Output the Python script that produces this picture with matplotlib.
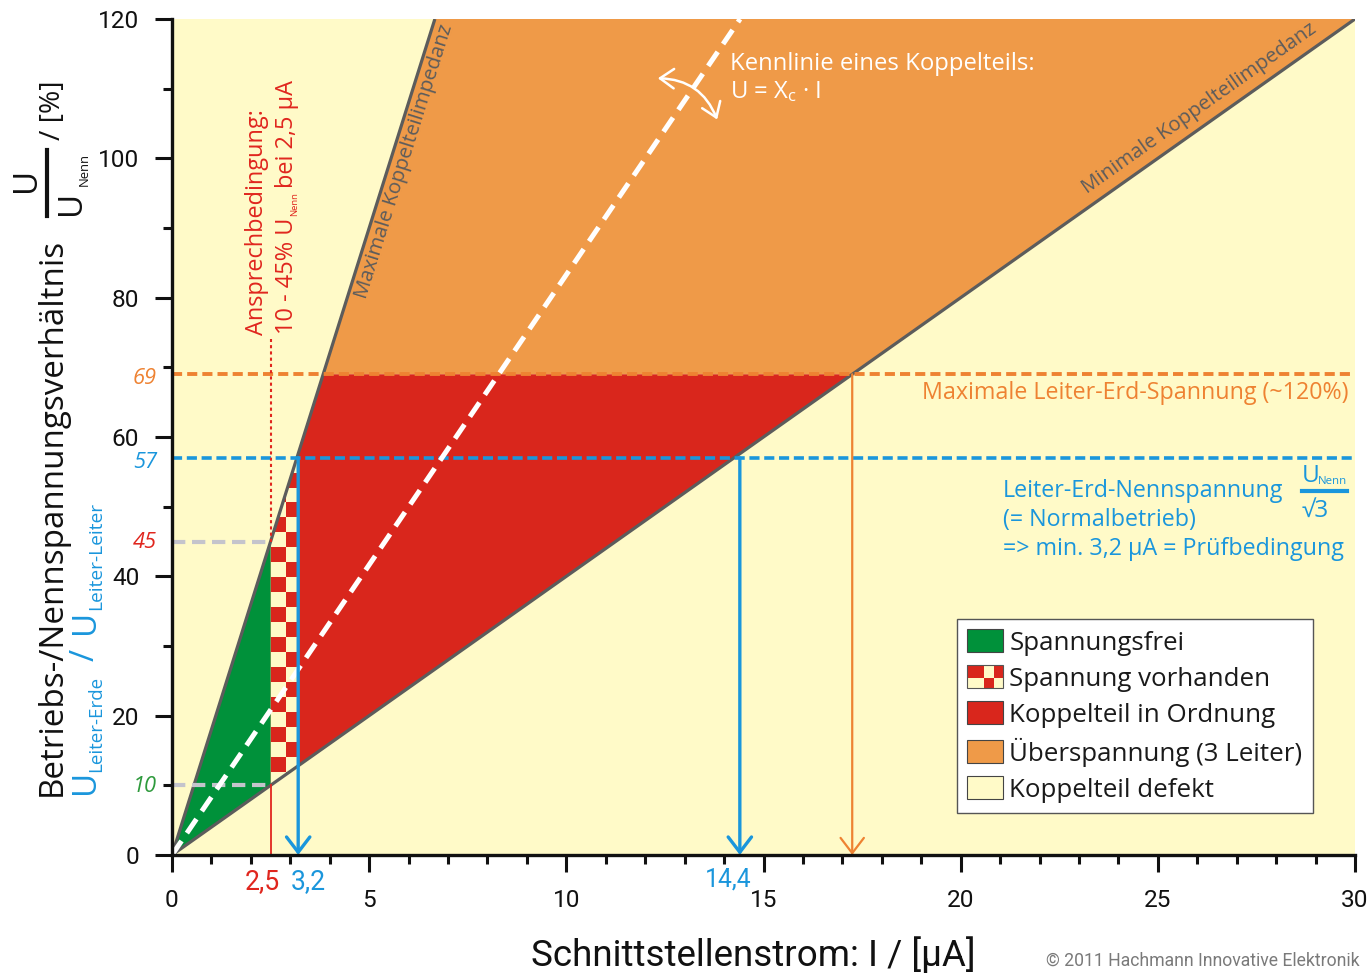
import numpy as np
import matplotlib
matplotlib.use("Agg")
import matplotlib.pyplot as plt
from matplotlib.patches import Polygon, Rectangle, FancyArrowPatch, Patch
from matplotlib.legend_handler import HandlerBase
from matplotlib.colors import ListedColormap
from matplotlib.lines import Line2D
from matplotlib.transforms import offset_copy

# ---------------- data ----------------
max_slope = 18.0          # Maximale Koppelteilimpedanz  (% per µA)
min_slope = 4.0           # Minimale Koppelteilimpedanz  (% per µA)
kennlinie_slope = 8.33    # Kennlinie eines Koppelteils
x_limits = [0, 30]
y_limits = [0, 120]
i_ansprech = 2.5          # µA
i_pruef = 3.2             # µA
i_nenn_min = 14.4         # µA
i_max = 17.25             # µA
u_ansprech_min = 10       # %
u_ansprech_max = 45       # %
u_nenn = 57               # %
u_max = 69                # %
ansprech_text_level = 74  # %
x_major = [0, 5, 10, 15, 20, 25, 30]
x_minor = list(range(0, 31))
y_major = [0, 20, 40, 60, 80, 100, 120]
y_minor = list(range(0, 121, 10))
legend_labels = ["Spannungsfrei", "Spannung vorhanden", "Koppelteil in Ordnung",
                 "Überspannung (3 Leiter)", "Koppelteil defekt"]

# ---------------- style ----------------
YELLOW = "#FFFAC8"
ORANGE = "#EF9A48"
RED = "#D9261C"
GREEN = "#00913A"
GRAY = "#5C5C5C"
BLUE = "#1A96DC"
ORANGE_L = "#EE8232"
LGRAY = "#C4C4CC"
TXTRED = "#E0261E"
SANS = ["Open Sans", "DejaVu Sans"]
NARROW = ["Liberation Sans Narrow", "Roboto", "DejaVu Sans"]

plt.rcParams["mathtext.fontset"] = "custom"
plt.rcParams["mathtext.rm"] = "Open Sans"
plt.rcParams["mathtext.it"] = "Open Sans:italic"
plt.rcParams["mathtext.bf"] = "Open Sans:bold"

W, H = 1367, 973
fig = plt.figure(figsize=(W / 100, H / 100), dpi=100)
renderer = fig.canvas.get_renderer()
ax = fig.add_axes([172 / W, 1 - 855 / H, (1355 - 172) / W, (855 - 19) / H])
ax.set_xlim(*x_limits)
ax.set_ylim(*y_limits)
ax.set_facecolor(YELLOW)


def fit(t, target):
    bb = t.get_window_extent(renderer)
    t.set_fontsize(t.get_fontsize() * target / bb.width)
    return t


def ftext(px, py, s, target=None, size=12, rot=0, **kw):
    t = fig.text(px / W, 1 - py / H, s, fontsize=size, **kw)
    if target:
        fit(t, target)
    if rot:
        t.set_rotation(rot)
        t.set_rotation_mode("anchor")
    return t


def size_for(s, target, family):
    t = fig.text(0, 0, s, fontsize=12, family=family)
    bb = t.get_window_extent(renderer)
    t.remove()
    return 12 * target / bb.width


# ---------------- regions ----------------
ymax = y_limits[1]
orange_poly = [(u_max / max_slope, u_max), (ymax / max_slope, ymax),
               (ymax / min_slope, ymax), (u_max / min_slope, u_max)]
red_poly = [(i_ansprech, u_ansprech_max), (u_max / max_slope, u_max),
            (u_max / min_slope, u_max), (i_ansprech, u_ansprech_min)]
green_poly = [(0, 0), (i_ansprech, u_ansprech_max), (i_ansprech, u_ansprech_min)]
check_poly = [(i_ansprech, u_ansprech_min), (i_ansprech, u_ansprech_max),
              (i_pruef, max_slope * i_pruef), (i_pruef, min_slope * i_pruef)]

ax.add_patch(Polygon(orange_poly, closed=True, facecolor=ORANGE, edgecolor="none", zorder=1))
ax.add_patch(Polygon(red_poly, closed=True, facecolor=RED, edgecolor="none", zorder=1))

# checker pattern
cx = np.array([i_ansprech, 2.88, 3.26])
cy = np.arange(11.9 - 2 * 2.15, 62, 2.15)
C = (np.add.outer(np.arange(len(cy) - 1), np.arange(len(cx) - 1)) % 2)
mesh = ax.pcolormesh(cx, cy, C, cmap=ListedColormap([RED, YELLOW]), zorder=1.5,
                     shading="flat", antialiased=False)
clip = Polygon(check_poly, closed=True, transform=ax.transData, facecolor="none", edgecolor="none")
ax.add_patch(clip)
mesh.set_clip_path(clip)

ax.add_patch(Polygon(green_poly, closed=True, facecolor=GREEN, edgecolor="none", zorder=1.6))

# boundary lines
ax.plot([0, ymax / max_slope], [0, ymax], color=GRAY, lw=2.3, zorder=3, solid_capstyle="butt")
ax.plot([0, ymax / min_slope], [0, ymax], color=GRAY, lw=2.3, zorder=3, solid_capstyle="butt")

# grey dashed helpers
for lvl in (u_ansprech_max, u_ansprech_min):
    ax.plot([0, i_ansprech], [lvl, lvl], color=LGRAY, lw=3, ls=(0, (3.2, 1.6)), zorder=3)

# horizontal dashed levels
ax.plot(x_limits, [u_max, u_max], color=ORANGE_L, lw=2.8, ls=(0, (2.6, 1.3)), zorder=4)
ax.plot(x_limits, [u_nenn, u_nenn], color=BLUE, lw=2.6, ls=(0, (2.8, 1.3)), zorder=4)

# red Ansprech line
ax.plot([i_ansprech, i_ansprech], [0, u_ansprech_min], color=TXTRED, lw=1.3, zorder=4)
ax.plot([i_ansprech, i_ansprech], [u_ansprech_max, ansprech_text_level], color=TXTRED,
        lw=1.5, ls=(0, (1.5, 1.5)), zorder=4)

# white characteristic line
ax.plot([0, ymax / kennlinie_slope], [0, ymax], color="white", lw=3.6,
        ls=(0, (3.4, 1.9)), zorder=5)


# vertical arrows
def varrow(x, y0, color, lw):
    a = FancyArrowPatch((x, y0), (x, 0), arrowstyle="->,head_length=0.55,head_width=0.42",
                        mutation_scale=20, color=color, lw=lw, shrinkA=0, shrinkB=0,
                        zorder=6, clip_on=False)
    ax.add_patch(a)


varrow(i_pruef, u_nenn, BLUE, 2.4)
varrow(i_nenn_min, u_nenn, BLUE, 2.4)
varrow(i_max, u_max, ORANGE_L, 1.6)

# curved double arrow
ca = FancyArrowPatch((12.25, 111.5), (13.85, 105.2), arrowstyle="<->,head_length=0.5,head_width=0.35",
                     connectionstyle="arc3,rad=-0.35", mutation_scale=20, color="white", lw=1.8,
                     zorder=6)
ax.add_patch(ca)

# ---------------- axes styling ----------------
for s in ("top", "right"):
    ax.spines[s].set_visible(False)
for s in ("left", "bottom"):
    ax.spines[s].set_linewidth(2.4)
    ax.spines[s].set_color("#111111")
    ax.spines[s].set_zorder(7)

ax.set_xticks(x_major)
ax.set_xticks(x_minor, minor=True)
ax.set_yticks(y_major)
ax.set_yticks(y_minor, minor=True)
tick_fs = size_for("120", 41, NARROW)
ax.set_xticklabels([str(v) for v in x_major], family=NARROW, fontsize=tick_fs, color="#111111")
ax.set_yticklabels([str(v) for v in y_major], family=NARROW, fontsize=tick_fs, color="#111111")
ax.tick_params(which="major", length=12.5, width=2.2, color="#111111", direction="out")
ax.tick_params(which="minor", length=6.5, width=2.2, color="#111111", direction="out")
ax.tick_params(axis="x", which="major", pad=12)
ax.tick_params(axis="y", which="major", pad=11)

# special tick-level labels
ftext(157, 379, "69", target=24, color=ORANGE_L, style="italic", family=SANS, ha="right", va="center")
ftext(157, 463, "57", target=24, color=BLUE, style="italic", family=SANS, ha="right", va="center")
ftext(157, 543, "45", target=24, color=TXTRED, style="italic", family=SANS, ha="right", va="center")
ftext(157, 786, "10", target=24, color="#2E9A3C", style="italic", family=SANS, ha="right", va="center")
ftext(262, 882, "2,5", target=35, color=TXTRED, family=NARROW, ha="center", va="center")
ftext(308, 882, "3,2", target=35, color=BLUE, family=NARROW, ha="center", va="center")
ftext(728, 880, "14,4", target=46, color=BLUE, family=NARROW, ha="center", va="center")

# x label and copyright
ftext(753, 955, "Schnittstellenstrom: I / [µA]", target=443, color="#111111", family=NARROW,
      ha="center", va="center")
ftext(1360, 961, "© 2011 Hachmann Innovative Elektronik", target=313, color="#7A7A7A",
      family=NARROW, ha="right", va="center")

# ---------------- y label pieces ----------------
main = ftext(61, 517, "Betriebs-/Nennspannungsverhältnis", target=555, color="#111111",
             family=SANS, ha="center", va="baseline", rot=90)
mfs = main.get_fontsize()
# blue part
ftext(94, 794, "U", size=mfs, color=BLUE, family=SANS, ha="left", va="baseline", rot=90)
ftext(101, 772, "Leiter-Erde", target=95, color=BLUE, family=SANS, ha="left", va="baseline", rot=90)
ftext(94, 655, "/", size=mfs, color=BLUE, family=SANS, ha="center", va="baseline", rot=90)
ftext(94, 634, "U", size=mfs, color=BLUE, family=SANS, ha="left", va="baseline", rot=90)
ftext(101, 610, "Leiter-Leiter", target=107, color=BLUE, family=SANS, ha="left", va="baseline", rot=90)
# black fraction
ftext(35, 180, "U", size=mfs, color="#111111", family=SANS, ha="center", va="baseline", rot=90)
fig.add_artist(Line2D([47 / W, 47 / W], [1 - 150 / H, 1 - 216 / H], color="#111111", lw=3.0))
ftext(80, 215, "U", size=mfs, color="#111111", family=SANS, ha="left", va="baseline", rot=90)
ftext(88, 186, "Nenn", target=33, color="#111111", family=SANS, ha="left", va="baseline", rot=90)
ftext(60, 140, "/ [%]", target=60, color="#111111", family=SANS, ha="left", va="baseline", rot=90)

# ---------------- annotations ----------------
k1 = ftext(730, 64, "Kennlinie eines Koppelteils:", target=303, color="white", family=SANS,
           ha="left", va="center")
ftext(730, 92, r"U = X$_{\mathrm{c}}$ · I", size=k1.get_fontsize(), color="white", family=SANS,
      ha="left", va="center")

ml = ftext(1348, 393, "Maximale Leiter-Erd-Spannung (~120%)", target=426, color=ORANGE_L,
           family=SANS, ha="right", va="center")
b1 = ftext(1003, 491, "Leiter-Erd-Nennspannung", target=279, color=BLUE, family=SANS,
           ha="left", va="center")
bfs = b1.get_fontsize()
ftext(1003, 520, "(= Normalbetrieb)", size=bfs, color=BLUE, family=SANS, ha="left", va="center")
ftext(1003, 549, "=> min. 3,2 µA = Prüfbedingung", size=bfs, color=BLUE, family=SANS,
      ha="left", va="center")
ftext(1302, 482, "U", size=bfs * 1.05, color=BLUE, family=SANS, ha="left", va="baseline")
ftext(1318, 484, "Nenn", target=29, color=BLUE, family=SANS, ha="left", va="baseline")
fig.add_artist(Line2D([1302 / W, 1347 / W], [1 - 491 / H, 1 - 491 / H], color=BLUE, lw=3.0))
ftext(1302, 517, "√3", size=bfs * 1.05, color=BLUE, family=SANS, ha="left", va="baseline")

# Ansprechbedingung (rotated)
a1 = ftext(263, 335, "Ansprechbedingung:", target=225, color=TXTRED, family=SANS,
           ha="left", va="baseline", rot=90)
afs = a1.get_fontsize()
p1 = ftext(293, 334, "10 - 45% U", size=afs, color=TXTRED, family=SANS, ha="left", va="baseline", rot=90)
top_u = p1.get_window_extent(renderer).y1  # display coords (from bottom)
p2 = ftext(297, H - top_u - 2, "Nenn", target=24, color=TXTRED, family=SANS, ha="left",
           va="baseline", rot=90)
top_n = p2.get_window_extent(renderer).y1
ftext(293, H - top_n - 4, "bei 2,5 µA", size=afs, color=TXTRED, family=SANS, ha="left",
      va="baseline", rot=90)


# text along the impedance lines
def screen_angle(slope):
    p0 = ax.transData.transform((0, 0))
    p1_ = ax.transData.transform((1, slope))
    return np.degrees(np.arctan2(p1_[1] - p0[1], p1_[0] - p0[0]))


lab_fs = size_for("Maximale Koppelteilimpedanz", 285, SANS)
a_max = np.radians(screen_angle(max_slope))
d = 14
tr_max = offset_copy(ax.transData, fig=fig, x=d * np.sin(a_max), y=-d * np.cos(a_max), units="dots")
yl = 100.2
ax.text(yl / max_slope, yl, "Maximale Koppelteilimpedanz", fontsize=lab_fs, color=GRAY, family=SANS,
        rotation=np.degrees(a_max), rotation_mode="anchor", ha="center", va="center", zorder=4,
        transform=tr_max)
a_min = np.radians(screen_angle(min_slope))
d = 17
tr_min = offset_copy(ax.transData, fig=fig, x=-d * np.sin(a_min), y=d * np.cos(a_min), units="dots")
xm = 26.3
ax.text(xm, xm * min_slope, "Minimale Koppelteilimpedanz", fontsize=lab_fs, color=GRAY, family=SANS,
        rotation=np.degrees(a_min), rotation_mode="anchor", ha="center", va="center", zorder=4,
        transform=tr_min)


# ---------------- legend ----------------
class HandlerChecker(HandlerBase):
    def create_artists(self, legend, orig_handle, xdescent, ydescent, width, height, fontsize, trans):
        arts = [Rectangle((-xdescent, -ydescent), width, height, facecolor=YELLOW,
                          edgecolor="none", transform=trans)]
        cols = [0, 0.45, 0.75, 1.0]
        rows = [0, 0.45, 1.0]
        for i in range(2):
            for j in range(3):
                if (i + j) % 2 == 1:
                    arts.append(Rectangle((-xdescent + cols[j] * width, -ydescent + rows[i] * height),
                                          (cols[j + 1] - cols[j]) * width, (rows[i + 1] - rows[i]) * height,
                                          facecolor=RED, edgecolor="none", transform=trans))
        arts.append(Rectangle((-xdescent, -ydescent), width, height, facecolor="none",
                              edgecolor="#555555", lw=0.8, transform=trans))
        return arts


class CheckerKey:
    pass


leg_fs = size_for("Spannung vorhanden", 260, SANS)
handles = [Patch(facecolor=GREEN, edgecolor="#444444", lw=0.8), CheckerKey(),
           Patch(facecolor=RED, edgecolor="#444444", lw=0.8),
           Patch(facecolor=ORANGE, edgecolor="#444444", lw=0.8),
           Patch(facecolor=YELLOW, edgecolor="#444444", lw=0.8)]
px_fs = leg_fs * 100 / 72
leg = ax.legend(handles, legend_labels, handler_map={CheckerKey: HandlerChecker()},
                loc="upper left", bbox_to_anchor=(957 / W, 1 - 619 / H), bbox_transform=fig.transFigure,
                borderaxespad=0, prop={"family": SANS, "size": leg_fs}, frameon=True, fancybox=False,
                framealpha=1, facecolor="white", edgecolor="#555555",
                handlelength=36 / px_fs, handleheight=25 / px_fs, handletextpad=6 / px_fs,
                borderpad=0.4, labelspacing=0.38)
leg.get_frame().set_linewidth(1.0)
for t in leg.get_texts():
    t.set_color("#1A1A1A")
leg.set_zorder(8)

fig.savefig("out.png", dpi=100, facecolor="white")
